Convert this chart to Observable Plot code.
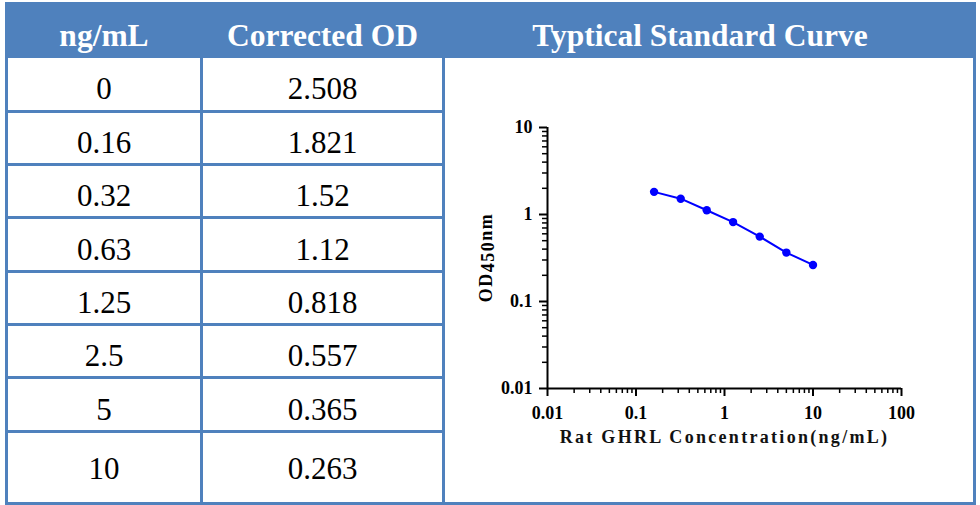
<!DOCTYPE html>
<html><head><meta charset="utf-8">
<script src="https://cdn.jsdelivr.net/npm/d3@7"></script>
<script src="https://cdn.jsdelivr.net/npm/@observablehq/plot@0.6"></script>
<style>
html,body{margin:0;padding:0;background:#fff;}
#root{position:relative;width:980px;height:505px;overflow:hidden;font-family:"Liberation Serif","Times New Roman",serif;}
.blk{position:absolute;background:#4f81bd;}
.cell{position:absolute;display:flex;align-items:center;justify-content:center;white-space:nowrap;line-height:1;box-sizing:border-box;}
.hd{color:#fff;font-weight:bold;font-size:31.5px;}
.bd{color:#000;font-size:31px;}
#chart{position:absolute;left:447px;top:62px;}
</style></head><body><div id="root"><div id="chart"></div></div>
<script>
// ---- data ----
const headers = ["ng/mL", "Corrected OD", "Typtical Standard Curve"];
const concLabels = ["0", "0.16", "0.32", "0.63", "1.25", "2.5", "5", "10"];
const odLabels = ["2.508", "1.821", "1.52", "1.12", "0.818", "0.557", "0.365", "0.263"];
const conc = [0.16, 0.32, 0.63, 1.25, 2.5, 5, 10];
const od = [1.821, 1.52, 1.12, 0.818, 0.557, 0.365, 0.263];
const xTicks = [0.01, 0.1, 1, 10, 100];
const yTicks = [0.01, 0.1, 1, 10];
const xLabel = "Rat GHRL Concentration(ng/mL)";
const yLabelParts = ["OD", "450", "nm"];

// ---- table layout ----
const root = document.getElementById("root");
function box(cls, l, t, w, h, txt, extra) {
  const d = document.createElement("div");
  d.className = cls;
  Object.assign(d.style, {left: l + "px", top: t + "px", width: w + "px", height: h + "px"}, extra || {});
  if (txt != null) d.textContent = txt;
  root.appendChild(d);
  return d;
}
const L = 5, R = 976, TOP = 2, HB = 58, BOT = 505;
const colLines = [5, 200, 442, 973];
const rowLines = [110, 163, 216, 270, 323, 376, 430, 502];
box("blk", L, TOP, R - L, HB - TOP);
colLines.forEach(x => box("blk", x, TOP, 3, BOT - TOP));
rowLines.slice(0, -1).forEach(y => box("blk", L, y, 442 + 3 - L, 3));
box("blk", L, 502, R - L, 3);
box("cell hd", 8, TOP, 192, HB - TOP, headers[0], {paddingTop: "12px"});
box("cell hd", 203, TOP, 239, HB - TOP, headers[1], {paddingTop: "12px"});
box("cell hd", 445, TOP, 510, HB - TOP, headers[2], {paddingTop: "12px"});
let prev = HB;
concLabels.forEach((c, i) => {
  const y0 = prev, y1 = rowLines[i];
  const pad = i === concLabels.length - 1 ? "2px" : "9px";
  box("cell bd", 8, y0, 192, y1 - y0, c, {paddingTop: pad});
  box("cell bd", 203, y0, 239, y1 - y0, odLabels[i], {paddingTop: pad});
  prev = y1 + 3;
});

// ---- chart ----
const data = conc.map((x, i) => ({x, y: od[i]}));
const minorOf = decs => decs.flatMap(d => [2,3,4,5,6,7,8,9].map(k => d * k));
const xMinor = minorOf(xTicks.slice(0, -1));
const yMinor = minorOf(yTicks.slice(0, -1));
const W = 524, H = 438, mL = 100, mR = 70, mT = 65, mB = 112;
const font = "'Liberation Serif','Times New Roman',serif";
const plot = Plot.plot({
  width: W, height: H,
  marginLeft: mL, marginRight: mR, marginTop: mT, marginBottom: mB,
  style: {fontFamily: font, fontSize: "18px", fontWeight: "bold", background: "transparent", color: "#000", overflow: "visible"},
  x: {type: "log", domain: [0.01, 100]},
  y: {type: "log", domain: [0.01, 10]},
  marks: [
    Plot.axisX({ticks: xMinor, tickSize: 5, text: null, label: null, strokeWidth: 1.5}),
    Plot.axisX({ticks: xTicks, tickSize: 8, tickPadding: 10, fontSize: 18, fontWeight: "bold", tickFormat: d => String(d), label: null, strokeWidth: 2}),
    Plot.axisY({ticks: yMinor, tickSize: 5, text: null, label: null, strokeWidth: 1.5}),
    Plot.axisY({ticks: yTicks, tickSize: 8, tickPadding: 7, fontSize: 18, fontWeight: "bold", tickFormat: d => String(d), label: null, strokeWidth: 2}),
    Plot.ruleX([0.01], {strokeWidth: 2}),
    Plot.ruleY([0.01], {strokeWidth: 2}),
    Plot.line(data, {x: "x", y: "y", stroke: "#0000ff", strokeWidth: 2}),
    Plot.dot(data, {x: "x", y: "y", fill: "#0000ff", r: 4.2}),
    Plot.text([xLabel], {text: d => d, frameAnchor: "bottom", dy: 54, fontSize: 18, fontWeight: "bold", fill: "#111"})
  ]
});
d3.select(plot).selectAll("g[aria-label=text] text").attr("letter-spacing", "2.3px");
const yl = d3.select(plot).append("text")
  .attr("transform", `translate(45, ${(mT + H - mB) / 2}) rotate(-90)`)
  .attr("text-anchor", "middle")
  .attr("font-size", 18).attr("font-weight", "bold").attr("letter-spacing", "1.5px")
  .attr("fill", "#000");
yl.append("tspan").text(yLabelParts[0]);
yl.append("tspan").attr("dy", 2).text(yLabelParts[1]);
yl.append("tspan").attr("dy", -2).text(yLabelParts[2]);
document.getElementById("chart").appendChild(plot);
</script>
</body></html>
